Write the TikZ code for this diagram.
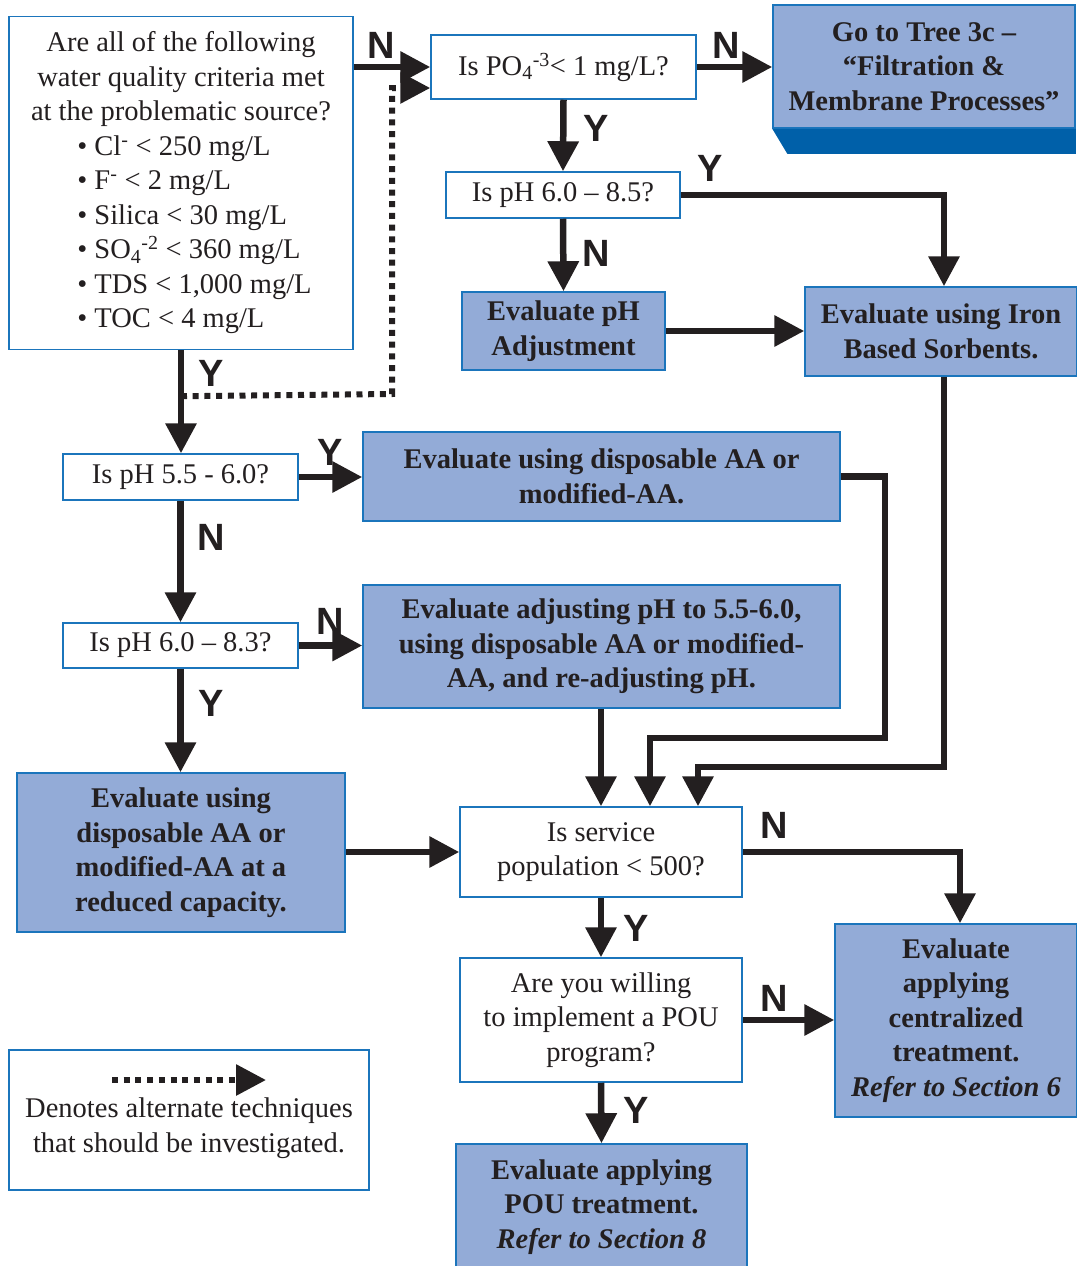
\documentclass[tikz,border=0pt]{standalone}
\usepackage{fontspec}
\setmainfont{Liberation Serif}
\newfontfamily\lsans{Liberation Sans}
\usetikzlibrary{arrows.meta,calc}
\definecolor{bblue}{RGB}{27,117,188}
\definecolor{bfill}{RGB}{147,171,215}
\definecolor{bband}{RGB}{0,96,169}
\definecolor{dk}{RGB}{35,31,32}
\newcommand{\qfont}{\fontsize{28.5}{34.5}\selectfont}
\newcommand{\efont}{\fontsize{28.5}{34.5}\selectfont\bfseries}
\newcommand{\lfont}{\lsans\fontsize{38}{40}\selectfont\bfseries}
\tikzset{
  q/.style={draw=bblue, line width=1.5pt, fill=white, align=center, inner sep=0pt, font=\qfont, text=dk},
  ev/.style={draw=bblue, line width=1.5pt, fill=bfill, align=center, inner sep=0pt, font=\efont, text=dk},
  conn/.style={line width=6.5pt, draw=dk, -{Triangle[length=30pt,width=30pt]}},
  dotconn/.style={line width=6pt, draw=dk, dash pattern=on 6pt off 5.7pt, -{Triangle[length=30pt,width=30pt]}},
  lab/.style={font=\lfont, text=dk, inner sep=0pt},
}
\begin{document}
\begin{tikzpicture}[x=1pt,y=-1pt]
\useasboundingbox (0,0) rectangle (1076,1266);
% nodes
\node[q, minimum width=344pt, minimum height=333pt] (A) at (181,183)
 {\begin{tabular}{@{}c@{}}Are all of the following\\ water quality criteria met\\ at the problematic source?\end{tabular}\\[-1pt]
  \hspace*{27pt}\begin{tabular}{@{}l@{}}\textbullet\ Cl\textsuperscript{-} {<} 250 mg/L\\
  \textbullet\ F\textsuperscript{-} {<} 2 mg/L\\
  \textbullet\ Silica {<} 30 mg/L\\
  \textbullet\ SO\textsubscript{4}\textsuperscript{-2} {<} 360 mg/L\\
  \textbullet\ TDS {<} 1,000 mg/L\\
  \textbullet\ TOC {<} 4 mg/L\end{tabular}};
\node[q, minimum width=265pt, minimum height=64pt] (P) at (563.5,67) {Is PO\textsubscript{4}\textsuperscript{-3}{<} 1 mg/L?};
\node[ev, minimum width=302pt, minimum height=123pt] (T) at (924,66.5) {Go to Tree 3c --\\ “Filtration \&\\ Membrane Processes”};
\fill[bband] (T.south west) -- (T.south east) -- ++(0,25) -- ($(T.south west)+(15,25)$) -- cycle;
\node[q, minimum width=234pt, minimum height=46pt] (B) at (563,195) {Is pH 6.0 -- 8.5?};
\node[ev, minimum width=203pt, minimum height=78pt] (Adj) at (563.5,331) {Evaluate pH\\ Adjustment};
\node[ev, minimum width=272pt, minimum height=89pt] (Iron) at (941,331.5) {Evaluate using Iron\\ Based Sorbents.};
\node[q, minimum width=235pt, minimum height=46pt] (C) at (180.5,477) {Is pH 5.5 - 6.0?};
\node[ev, minimum width=477pt, minimum height=89pt] (AA) at (601.5,476.5) {Evaluate using disposable AA or\\ modified-AA.};
\node[q, minimum width=235pt, minimum height=45pt] (D) at (180.5,645.5) {Is pH 6.0 -- 8.3?};
\node[ev, minimum width=477pt, minimum height=123pt] (AdjAA) at (601.5,646.5) {Evaluate adjusting pH to 5.5-6.0,\\ using disposable AA or modified-\\ AA, and re-adjusting pH.};
\node[ev, minimum width=328pt, minimum height=159pt] (Red) at (181,852.5) {Evaluate using\\ disposable AA or\\ modified-AA at a\\ reduced capacity.};
\node[q, minimum width=282pt, minimum height=90pt] (Svc) at (601,852) {Is service\\ population {<} 500?};
\node[q, minimum width=282pt, minimum height=124pt] (Will) at (601,1020) {Are you willing\\ to implement a POU\\ program?};
\node[ev, minimum width=291pt, minimum height=126pt] (POU) at (601.5,1207) {Evaluate applying\\ POU treatment.\\ \textit{Refer to Section 8}};
\node[ev, minimum width=242pt, minimum height=193pt] (Cent) at (956,1020.5) {Evaluate\\ applying\\ centralized\\ treatment.\\ \textit{Refer to Section 6}};
\node[q, minimum width=360pt, minimum height=140pt] (Leg) at (189,1120) {};
\node[font=\qfont, text=dk, align=center, inner sep=0pt] (LegT) at (189,1128) {Denotes alternate techniques\\ that should be investigated.};
\coordinate (L1) at (112,1080);
\coordinate (L2) at (266,1080);
\draw[dotconn] (L1) -- (L2);
% connectors
\draw[conn] (A.east |- P.west) -- (P.west);
\draw[conn] (P.east) -- (P.east -| T.west);
\draw[conn] (P.south) -- (B.north);
\draw[conn] (B.east) -| ([xshift=3pt]Iron.north);
\draw[conn] (B.south) -- (Adj.north);
\draw[conn] (Adj.east) -- (Adj.east -| Iron.west);
\draw[conn] (A.south) -- (A.south |- C.north);
\draw[conn] (C.east) -- (C.east -| AA.west);
\draw[conn] (C.south) -- (C.south |- D.north);
\draw[conn] (D.east) -- (D.east -| AdjAA.west);
\draw[conn] (D.south) -- (D.south |- Red.north);
\draw[conn] (Red.east |- Svc.west) -- (Svc.west);
\draw[conn] (AdjAA.south -| Svc.north) -- (Svc.north);
\coordinate (c1) at (885,738);
\draw[conn] (AA.east) -| (c1) -| ([xshift=49pt]Svc.north);
\coordinate (c2) at (944,767);
\draw[conn] ([xshift=3pt]Iron.south) -- (c2) -| ([xshift=97pt]Svc.north);
\draw[conn] (Svc.east) -| ([xshift=4pt]Cent.north);
\draw[conn] (Svc.south) -- (Will.north);
\draw[conn] (Will.east) -- (Will.east -| Cent.west);
\draw[conn] (Will.south) -- (POU.north);
% dotted alternate
\coordinate (d0) at ($(A.south)+(0,46)$);
\coordinate (d1) at (392,394);
\draw[dotconn] (d0) -- (d1) |- ([yshift=-21pt]P.west);
% labels
\node[lab] (n1) at (381,45) {N};
\node[lab] (n2) at (726,45) {N};
\node[lab] (y1) at (596,128) {Y};
\node[lab] (y2) at (710,168) {Y};
\node[lab] (n3) at (596,253) {N};
\node[lab] (y3) at (211,373) {Y};
\node[lab] (y4) at (330,452) {Y};
\node[lab] (n4) at (211,537) {N};
\node[lab] (n5) at (330,621) {N};
\node[lab] (y5) at (211,703) {Y};
\node[lab] (n6) at (774,825) {N};
\node[lab] (y6) at (636,928) {Y};
\node[lab] (n7) at (774,998) {N};
\node[lab] (y7) at (636,1110) {Y};
\end{tikzpicture}
\end{document}
